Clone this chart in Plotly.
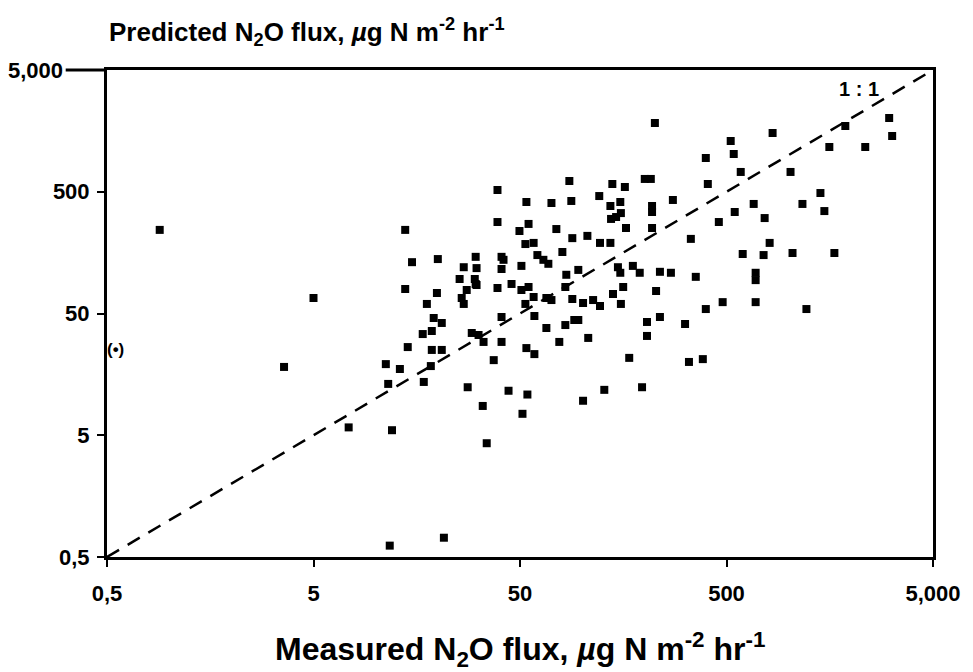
import plotly.graph_objects as go

# Measured vs predicted N2O flux (µg N m-2 hr-1)
measured = [
    0.90, 5.0, 3.6, 11.2, 11.5, 7.4, 12.0, 11.7, 21.4, 13.9,
    15.0, 20.0, 13.9, 19.8, 17.7, 26.7, 19.1, 20.9, 16.9, 18.7,
    14.3, 18.7, 20.9, 13.1, 18.5, 17.1, 27.9, 33.0, 34.5, 29.2,
    31.5, 33.3, 40.7, 40.7, 37.3, 44.0, 54.3, 51.4, 53.7, 58.7,
    58.2, 58.7, 67.1, 77.5, 82.9, 91.6, 95.8, 107, 101, 128,
    169, 195, 206, 206, 238, 50.8, 55.0, 82.9, 141, 158,
    228, 67.1, 71.0, 89.6, 101, 113, 122, 154, 53.1, 27.6,
    30.8, 38.9, 45.5, 26.1, 38.9, 38.9, 30.5, 26.7, 30.8, 40.7,
    41.6, 40.7, 25.5, 30.2, 30.5, 86.7, 140, 161, 201, 215,
    53.7, 71.0, 88.6, 121, 137, 153, 218, 218, 138, 154,
    146, 163, 218, 55.0, 49.7, 75.0, 89.6, 106, 122, 137,
    53.1, 58.2, 80.2, 60.7, 64.9, 68.6, 50.8, 95.8, 83.8, 149,
    153, 176, 190, 238, 225, 1881, 3067, 3171, 836, 524,
    542, 397, 1574, 2349, 586, 1021, 406, 275, 1425, 1166,
    677, 548, 459, 765, 1489, 336, 809, 599, 756, 1044,
    1665, 269, 355, 692, 692, 479, 692, 397, 1219, 315,
    329, 384,
]
predicted = [
    243, 67, 18.2, 19.2, 13.2, 5.8, 5.5, 0.62, 0.72, 243,
    132, 140, 79.5, 73.7, 59.9, 59.9, 45.9, 41.8, 33.9, 35.9,
    26.5, 25.1, 25.1, 17.5, 18.5, 13.7, 12.4, 8.7, 4.3, 34.6,
    33.3, 29.2, 29.2, 46.8, 20.7, 11.6, 10.8, 7.5, 26.0, 23.2,
    68.3, 47.7, 38.0, 29.2, 40.2, 44.2, 44.2, 31.5, 9.6, 11.8,
    21.6, 12.4, 42.6, 32.7, 46.8, 78, 82.5, 82.5, 72.3, 82.5,
    76.5, 67, 64.5, 65.8, 61, 64.5, 57.6, 59.9, 59.9, 78,
    85.7, 81, 87.4, 67, 517, 282, 146, 120, 118, 146,
    138, 116, 96, 96, 87.4, 613, 579, 547, 637, 637,
    412, 404, 420, 461, 382, 412, 382, 341, 299, 334,
    310, 252, 252, 272, 238, 247, 208, 217, 190, 190,
    186, 190, 160, 151, 138, 128, 123, 114, 104, 120,
    108, 123, 108, 110, 1835, 1734, 2017, 1435, 1519, 1305,
    1021, 947, 1166, 1166, 727, 727, 579, 428, 488, 397,
    397, 341, 282, 304, 347, 205, 190, 154, 151, 157,
    157, 108, 100, 108, 94, 62, 62, 54.4, 54.4, 41,
    20.0, 21.1,
]
one_to_one = [0.5, 5000]
tick_vals = [0.5, 5, 50, 500, 5000]
x_tick_text = ["0,5", "5", "50", "500", "5,000"]
y_tick_text = ["0,5", "5", "50", "500", ""]   # top label drawn separately, further left
top_y_label = "5,000"

FONT = "Liberation Sans, Arial, sans-serif"

fig = go.Figure()
fig.add_trace(go.Scatter(
    x=one_to_one, y=one_to_one, mode="lines",
    line=dict(color="black", width=2.5, dash="14px,10px"),
    hoverinfo="skip", showlegend=False,
))
fig.add_trace(go.Scatter(
    x=measured, y=predicted, mode="markers",
    marker=dict(symbol="square", size=8, color="black"),
    showlegend=False,
))

axis_common = dict(
    type="log", showgrid=False, zeroline=False,
    showline=True, linewidth=3, linecolor="black", mirror=True,
    ticks="outside", ticklen=7, tickwidth=2, tickcolor="black",
    tickvals=tick_vals,
    tickfont=dict(family=FONT, size=22, color="black", weight="bold"),
)
fig.update_xaxes(range=[-0.30103, 3.69897], ticklabelstandoff=8,
                 ticktext=x_tick_text, **axis_common)
fig.update_yaxes(range=[-0.30103, 3.69897], ticklabelstandoff=3,
                 ticktext=y_tick_text, **axis_common)

# top y label sits left of an extended top frame line
fig.add_annotation(
    text=top_y_label, xref="paper", yref="paper", x=-0.0869, y=1.0,
    xanchor="center", yanchor="middle", showarrow=False,
    font=dict(family=FONT, size=22, color="black", weight="bold"),
)
fig.add_shape(type="line", xref="paper", yref="paper", x0=-0.05, x1=0, y0=1, y1=1,
              line=dict(color="black", width=3))

fig.add_annotation(
    text="Predicted N<sub>2</sub>O flux, <i>µ</i>g N m<sup>-2</sup> hr<sup>-1</sup>",
    xref="paper", yref="paper", x=0, y=1.078, xanchor="left", yanchor="middle",
    showarrow=False, font=dict(family=FONT, size=26, color="black", weight="bold"),
)
fig.add_annotation(
    text="Measured N<sub>2</sub>O flux, <i>µ</i>g N m<sup>-2</sup> hr<sup>-1</sup>",
    xref="paper", yref="paper", x=0.5, y=-0.19, xanchor="center", yanchor="middle",
    showarrow=False, font=dict(family=FONT, size=32, color="black", weight="bold"),
)
fig.add_annotation(
    text="1 : 1", x=3.342, y=3.543, xref="x", yref="y",
    showarrow=False, font=dict(family=FONT, size=20, color="black", weight="bold"),
)
fig.add_annotation(
    text="(•)", x=-0.262, y=1.407, xref="x", yref="y",
    showarrow=False, font=dict(family=FONT, size=17, color="black", weight="bold"),
)

# the page adds an 8px body margin, so the figure is 8px smaller
fig.update_layout(
    width=965, height=664,
    margin=dict(l=99, r=37, t=62, b=115),
    paper_bgcolor="white", plot_bgcolor="white",
)
fig.write_html("out.html")
